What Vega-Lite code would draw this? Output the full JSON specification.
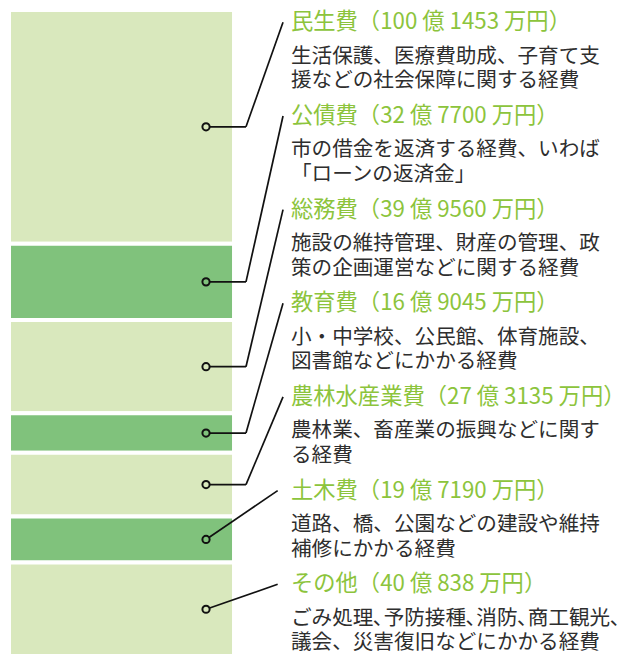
{
  "$schema": "https://vega.github.io/schema/vega-lite/v6.json",
  "width": 617,
  "height": 646,
  "autosize": {"type": "none"},
  "padding": {"top": 10, "left": 0, "right": 0, "bottom": 4},
  "background": "white",
  "config": {"view": {"stroke": null}},
  "data": {
    "values": [
      {"item": "民生費", "amount": 100.1453, "title": "民生費（100 億 1453 万円）", "desc": "生活保護、医療費助成、子育て支\n援などの社会保障に関する経費"},
      {"item": "公債費", "amount": 32.77, "title": "公債費（32 億 7700 万円）", "desc": "市の借金を返済する経費、いわば\n「ローンの返済金」"},
      {"item": "総務費", "amount": 39.956, "title": "総務費（39 億 9560 万円）", "desc": "施設の維持管理、財産の管理、政\n策の企画運営などに関する経費"},
      {"item": "教育費", "amount": 16.9045, "title": "教育費（16 億 9045 万円）", "desc": "小・中学校、公民館、体育施設、\n図書館などにかかる経費"},
      {"item": "農林水産業費", "amount": 27.3135, "title": "農林水産業費（27 億 3135 万円）", "desc": "農林業、畜産業の振興などに関す\nる経費"},
      {"item": "土木費", "amount": 19.719, "title": "土木費（19 億 7190 万円）", "desc": "道路、橋、公園などの建設や維持\n補修にかかる経費"},
      {"item": "その他", "amount": 40.0838, "title": "その他（40 億 838 万円）", "desc": "ごみ処理､予防接種､消防､商工観光､\n議会、災害復旧などにかかる経費"}
    ]
  },
  "transform": [
    {"window": [{"op": "row_number", "as": "idx"}]},
    {"joinaggregate": [{"op": "sum", "field": "amount", "as": "total"}]},
    {"stack": "amount", "groupby": [], "sort": [{"field": "idx", "order": "ascending"}], "as": ["y0", "y1"]},
    {"calculate": "(datum.idx - 1) % 2", "as": "shade"},
    {"calculate": "(datum.y0 + datum.y1) / 2", "as": "center"},
    {"calculate": "datum.total * (0.0190 + 0.1450 * (datum.idx - 1))", "as": "ty"},
    {"calculate": "(datum.center - datum.ty) / datum.total > 0.093", "as": "elbow"},
    {"calculate": "1.46", "as": "bx0"},
    {"calculate": "37.93", "as": "bx1"},
    {"calculate": "33.39", "as": "cx"},
    {"calculate": "47.16", "as": "lx"},
    {"calculate": "datum.elbow ? 39.87 : 33.39", "as": "ex"},
    {"calculate": "datum.elbow ? 45.87 : 45.0", "as": "tx"}
  ],
  "encoding": {
    "x": {"type": "quantitative", "scale": {"domain": [0, 100], "nice": false, "zero": false}, "axis": null},
    "y": {"type": "quantitative", "scale": {"reverse": true, "nice": false, "zero": true}, "axis": null}
  },
  "layer": [
    {
      "mark": {"type": "bar", "stroke": "white", "strokeWidth": 4},
      "encoding": {
        "x": {"field": "bx0", "type": "quantitative"},
        "x2": {"field": "bx1"},
        "y": {"field": "y0", "type": "quantitative"},
        "y2": {"field": "y1"},
        "color": {"field": "shade", "type": "nominal", "scale": {"domain": [0, 1], "range": ["#d9e8bd", "#80c27c"]}, "legend": null}
      }
    },
    {
      "mark": {"type": "rule", "color": "#111111", "strokeWidth": 1.7},
      "encoding": {
        "x": {"field": "cx", "type": "quantitative"},
        "x2": {"field": "ex"},
        "y": {"field": "center", "type": "quantitative"}
      }
    },
    {
      "mark": {"type": "rule", "color": "#111111", "strokeWidth": 1.7},
      "encoding": {
        "x": {"field": "ex", "type": "quantitative"},
        "x2": {"field": "tx"},
        "y": {"field": "center", "type": "quantitative"},
        "y2": {"field": "ty"}
      }
    },
    {
      "mark": {"type": "point", "shape": "circle", "filled": true, "size": 52, "stroke": "#111111", "strokeWidth": 2, "opacity": 1},
      "encoding": {
        "x": {"field": "cx", "type": "quantitative"},
        "y": {"field": "center", "type": "quantitative"},
        "color": {"field": "shade", "type": "nominal", "legend": null}
      }
    },
    {
      "mark": {"type": "text", "align": "left", "baseline": "middle", "font": "Noto Sans CJK JP", "fontSize": 22.3, "color": "#8cc43c"},
      "encoding": {
        "x": {"field": "lx", "type": "quantitative"},
        "y": {"field": "ty", "type": "quantitative"},
        "text": {"field": "title"}
      }
    },
    {
      "mark": {"type": "text", "align": "left", "baseline": "top", "font": "Noto Sans CJK JP", "fontSize": 20.6, "lineHeight": 24.5, "lineBreak": "\n", "color": "#2e2e2e", "dy": 24.5},
      "encoding": {
        "x": {"field": "lx", "type": "quantitative"},
        "y": {"field": "ty", "type": "quantitative"},
        "text": {"field": "desc"}
      }
    }
  ]
}
